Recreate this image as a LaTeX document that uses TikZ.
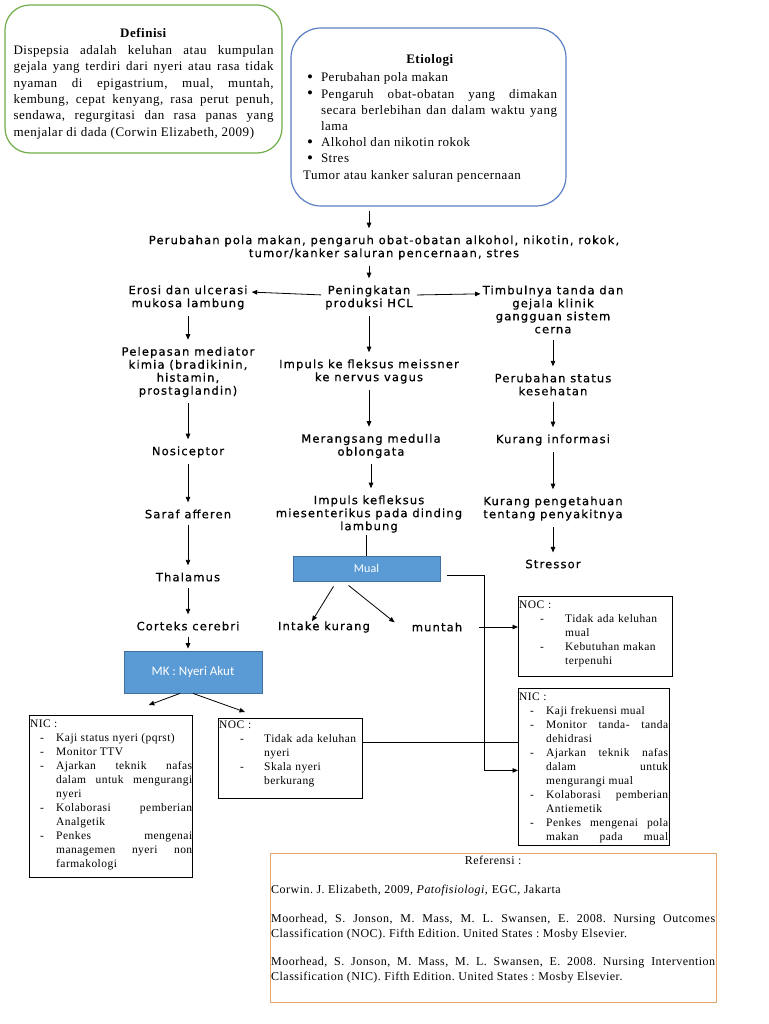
\documentclass[tikz,border=0pt]{standalone}
\usepackage{fontspec}
\setmainfont{Liberation Serif}[LetterSpace=4]
\newfontfamily\flowfont[LetterSpace=10,FakeBold=0.6]{DejaVu Sans}
\newfontfamily\boxfont{Carlito}
\usetikzlibrary{arrows.meta,calc}
\definecolor{defgreen}{HTML}{70AD47}
\definecolor{etioblue}{HTML}{5B7FC4}
\definecolor{mkfill}{HTML}{5B9BD5}
\definecolor{mkline}{HTML}{41719C}
\definecolor{refor}{HTML}{E9A66C}
\setlength{\parindent}{0pt}
\frenchspacing
\hyphenpenalty=10000
\exhyphenpenalty=10000
\tolerance=10000
\hbadness=10000
\newcommand{\ditem}[3]{\par{\leftskip=#1\noindent\hspace{-#2}\makebox[#2][l]{-}#3\par}}
\newcommand{\bitem}[1]{\par{\leftskip=18pt\noindent\hspace{-14pt}\makebox[14pt][l]{\raisebox{-0.5pt}{\fontsize{17}{17}\selectfont\textbullet}}#1\par}}
\begin{document}
\begin{tikzpicture}[x=1pt,y=-1pt,
  arr/.style={-{Triangle[length=5.5pt,width=4.5pt]},line width=0.8pt,shorten >=5pt,shorten <=4pt},
  plain/.style={line width=0.8pt},
  flow/.style={font=\flowfont\fontsize{11.5}{13}\selectfont,align=center,inner sep=2pt},
  tbox/.style={draw,line width=0.8pt,anchor=north west,inner sep=0pt},
  btxt/.style={anchor=north west,inner xsep=1pt,inner ysep=4.5pt,align=justify,font=\fontsize{11.5}{14}\selectfont},
  bluebox/.style={draw=mkline,fill=mkfill,line width=0.8pt,text=white,font=\boxfont\fontsize{13}{15}\selectfont}
]
\fill[white] (0,0) rectangle (768,1024);
\useasboundingbox (0,0) rectangle (768,1024);

% Definisi
\node[draw=defgreen,line width=1.2pt,rounded corners=25pt,minimum width=277pt,minimum height=148pt] (def) at (143.5,79) {};
\node[anchor=north,yshift=-24pt,inner sep=0pt,text width=260pt,align=justify,font=\fontsize{13}{16.3}\selectfont] (deft) at (def.north)
{\centerline{\textbf{Definisi}}\par\vspace{0.5pt}Dispepsia adalah keluhan atau kumpulan\linebreak gejala yang terdiri dari nyeri atau rasa tidak\linebreak nyaman di epigastrium, mual, muntah,\linebreak kembung, cepat kenyang, rasa perut penuh,\linebreak sendawa, regurgitasi dan rasa panas yang\linebreak menjalar di dada (Corwin Elizabeth, 2009)\par};

% Etiologi
\node[draw=etioblue,line width=1.2pt,rounded corners=30pt,minimum width=275pt,minimum height=178pt] (etio) at (428.5,117) {};
\node[anchor=north,yshift=-27pt,xshift=1.5pt,inner sep=0pt,text width=254pt,align=justify,font=\fontsize{13}{16.2}\selectfont] (etiot) at (etio.north)
{\centerline{\textbf{Etiologi}}\par\vspace{2pt}\bitem{Perubahan pola makan}\bitem{Pengaruh obat-obatan yang dimakan\linebreak secara berlebihan dan dalam waktu yang\linebreak lama}\bitem{Alkohol dan nikotin rokok}\bitem{Stres}Tumor atau kanker saluran pencernaan\par};

% flow nodes
\node[flow] (top) at (384,247.5) {Perubahan pola makan, pengaruh obat-obatan alkohol, nikotin, rokok,\\tumor/kanker saluran pencernaan, stres};
\node[flow] (hcl) at (369,297.5) {Peningkatan\\produksi HCL};
\node[flow] (erosi) at (188,297.5) {Erosi dan ulcerasi\\mukosa lambung};
\node[flow] (timbul) at (553,309.5) {Timbulnya tanda dan\\gejala klinik\\gangguan sistem\\cerna};
\node[flow] (pel) at (188,372) {Pelepasan mediator\\kimia (bradikinin,\\histamin,\\prostaglandin)};
\node[flow] (imp1) at (369,371.5) {Impuls ke fleksus meissner\\ke nervus vagus};
\node[flow] (perub) at (553,384.5) {Perubahan status\\kesehatan};
\node[flow] (nos) at (188,452) {Nosiceptor};
\node[flow] (meran) at (371,446) {Merangsang medulla\\oblongata};
\node[flow] (kurinf) at (553,440) {Kurang informasi};
\node[flow] (saraf) at (188,514) {Saraf afferen};
\node[flow] (imp2) at (369,514) {Impuls kefleksus\\miesenterikus pada dinding\\lambung};
\node[flow] (kurpen) at (553,508.5) {Kurang pengetahuan\\tentang penyakitnya};
\node[flow] (thal) at (188,577) {Thalamus};
\node[flow] (stress) at (553,564) {Stressor};
\node[flow] (cort) at (188,626) {Corteks cerebri};
\node[flow] (intake) at (324,627) {Intake kurang};
\node[flow] (muntah) at (437,627) {muntah};

\node[bluebox,minimum width=138pt,minimum height=42pt] (mk) at (193,672) {MK : Nyeri Akut};
\node[bluebox,minimum width=147pt,minimum height=25pt,font=\boxfont\fontsize{12}{14}\selectfont] (mual) at (366.5,568.5) {Mual};

% NIC left
\node[tbox,minimum width=163pt,minimum height=162pt] (nicL) at (29,715) {};
\node[btxt,text width=162pt] (nicLt) at (nicL.north west) {NIC :%
\ditem{26pt}{16pt}{Kaji status nyeri (pqrst)}%
\ditem{26pt}{16pt}{Monitor TTV}%
\ditem{26pt}{16pt}{Ajarkan teknik nafas\linebreak dalam untuk mengurangi\linebreak nyeri}%
\ditem{26pt}{16pt}{Kolaborasi pemberian\linebreak Analgetik}%
\ditem{26pt}{16pt}{Penkes mengenai\linebreak managemen nyeri non\linebreak farmakologi}};

% NOC nyeri
\node[tbox,minimum width=144pt,minimum height=80pt] (nocN) at (218,718) {};
\node[btxt,text width=140pt,align=left,inner ysep=3pt] (nocNt) at (nocN.north west) {NOC :%
\ditem{45pt}{24pt}{Tidak ada keluhan\newline nyeri}%
\ditem{45pt}{24pt}{Skala nyeri\newline berkurang}};

% NOC mual
\node[tbox,minimum width=154pt,minimum height=80pt] (nocM) at (518,596) {};
\node[btxt,text width=150pt,align=left] (nocMt) at (nocM.north west) {NOC :%
\ditem{46pt}{25pt}{Tidak ada keluhan\newline mual}%
\ditem{46pt}{25pt}{Kebutuhan makan\newline terpenuhi}};

% NIC mual
\node[tbox,minimum width=151pt,minimum height=157pt] (nicM) at (518,688) {};
\node[btxt,text width=149pt] (nicMt) at (nicM.north west) {NIC :%
\ditem{27pt}{16pt}{Kaji frekuensi mual}%
\ditem{27pt}{16pt}{Monitor tanda- tanda\linebreak dehidrasi}%
\ditem{27pt}{16pt}{Ajarkan teknik nafas\linebreak dalam untuk\linebreak mengurangi mual}%
\ditem{27pt}{16pt}{Kolaborasi pemberian\linebreak Antiemetik}%
\par{\leftskip=27pt\parfillskip=0pt\noindent\hspace{-16pt}\makebox[16pt][l]{-}Penkes mengenai pola\linebreak makan pada mual\par}};

% Referensi
\node[draw=refor,line width=1pt,anchor=north west,inner sep=0pt,minimum width=446pt,minimum height=149pt] (ref) at (270,853) {};
\node[anchor=north west,inner xsep=1pt,inner ysep=3pt,text width=444pt,align=justify,font=\fontsize{12}{14.8}\selectfont] (reft) at (ref.north west)
{\parskip=14pt\centerline{Referensi :}\par
Corwin. J. Elizabeth, 2009, \textit{Patofisiologi,} EGC, Jakarta\par
Moorhead, S. Jonson, M. Mass, M. L. Swansen, E. 2008. Nursing Outcomes\linebreak Classification (NOC). Fifth Edition. United States : Mosby Elsevier.\par
Moorhead, S. Jonson, M. Mass, M. L. Swansen, E. 2008. Nursing Intervention\linebreak Classification (NIC). Fifth Edition. United States : Mosby Elsevier.\par};

% connectors
\draw[arr] (etio.south -| hcl.north) -- (top.north -| hcl.north);
\draw[arr] (top.south -| hcl.north) -- (hcl.north);
\draw[arr,shorten <=2pt,shorten >=2pt] ([yshift=2.5pt]hcl.west) -- ([yshift=5.5pt]erosi.east);
\draw[arr,shorten <=2pt,shorten >=0pt] ([yshift=2.5pt]hcl.east) -- ([yshift=-10.5pt]timbul.north west);
\draw[arr] (erosi.south) -- (pel.north);
\draw[arr] (pel.south) -- (nos.north);
\draw[arr] (nos.south) -- (saraf.north);
\draw[arr] (saraf.south) -- (thal.north);
\draw[arr] (thal.south) -- (cort.north);
\draw[arr,shorten >=2pt] (cort.south) -- (cort.south |- mk.north);
\draw[arr] (hcl.south) -- (imp1.north);
\draw[arr] (imp1.south) -- (imp1.south |- meran.north);
\draw[arr] (meran.south) -- (meran.south |- imp2.north);
\draw[plain] (imp2.south -| mual.north) -- (mual.north);
\draw[arr] (timbul.south) -- (perub.north);
\draw[arr] (perub.south) -- (kurinf.north);
\draw[arr] (kurinf.south) -- (kurpen.north);
\draw[arr] (kurpen.south) -- (stress.north);
\draw[arr,shorten <=0pt,shorten >=0pt] ([xshift=-13pt]mk.south) -- ([xshift=-44pt,yshift=10pt]nicL.north east);
\draw[arr,shorten <=0pt,shorten >=0pt] ([xshift=0pt]mk.south) -- ([xshift=27pt,yshift=6pt]nocN.north west);
\draw[arr,shorten <=0pt,shorten >=0pt] ([xshift=-33pt,yshift=-5pt]mual.south) -- ([xshift=-12pt,yshift=-2pt]intake.north);
\draw[arr,shorten <=0pt,shorten >=0pt] ([xshift=-18pt,yshift=-4pt]mual.south) -- ([xshift=-15pt,yshift=-2pt]muntah.north west);
\draw[arr,shorten <=0pt,shorten >=0pt] ([xshift=7pt,yshift=-6.5pt]mual.east) -| ([xshift=-34pt,yshift=-3.5pt]nicM.west) -- ([yshift=-3.5pt]nicM.west);
\draw[arr,shorten <=0pt,shorten >=0pt] ([xshift=15pt]muntah.east) -- (nocM.west |- muntah.east);
\draw[plain] ([yshift=16pt]nocN.east) -- ([yshift=16pt]nocN.east -| nicM.west);
\end{tikzpicture}
\end{document}
